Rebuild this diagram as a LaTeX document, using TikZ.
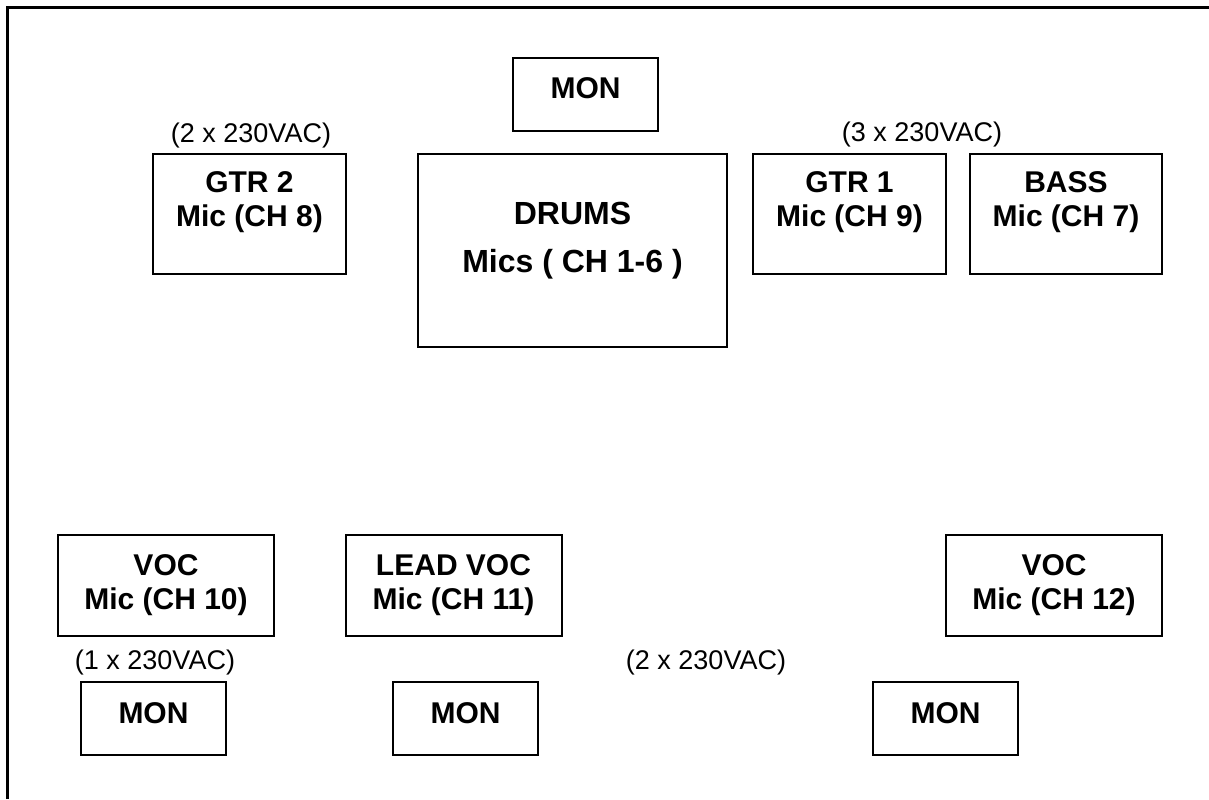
\documentclass[tikz,border=0pt]{standalone}
\usepackage{fontspec}
\setmainfont{Liberation Sans}
\usepackage{tikz}
\usetikzlibrary{positioning, calc}
\usepackage{xcolor}

\tikzset{
	stagebox/.style={draw, line width=1pt, rectangle, inner sep=0pt},
	boxtext/.style={font=\bfseries\fontsize{15}{17}\selectfont, align=center, inner sep=0pt},
	drumtext/.style={font=\bfseries\fontsize{16}{24}\selectfont, align=center, inner sep=0pt},
	powernote/.style={font=\fontsize{13.5}{15}\selectfont, inner sep=0pt}
}

\begin{document}
\begin{tikzpicture}[x=0.5pt, y=-0.5pt]
        \useasboundingbox (0,0) rectangle (1209,799);
        % stage edge
        \draw[line width=1.5pt] (7.5,799) -- (7.5,7.5) -- (1209,7.5);

        % back line
        \node[stagebox, minimum width=72.5pt, minimum height=36.5pt] (montop) at (585.5,94.5) {};
        \node[boxtext] (montop-t) at (585.5,88) {MON};
        \node[stagebox, minimum width=96.5pt, minimum height=60pt] (gtrtwo) at (249.5,214) {};
        \node[boxtext] (gtrtwo-t) at (249.5,202) {GTR 2\\Mic (CH 8)};
        \node[stagebox, minimum width=154.5pt, minimum height=96.5pt] (drums) at (572.5,250.5) {};
        \node[drumtext] (drums-t) at (572.5,241) {DRUMS\\Mics ( CH 1-6 )};
        \node[stagebox, minimum width=96.5pt, minimum height=60pt] (gtrone) at (849.5,214) {};
        \node[boxtext] (gtrone-t) at (849.5,202) {GTR 1\\Mic (CH 9)};
        \node[stagebox, minimum width=96pt, minimum height=60pt] (bass) at (1066,214) {};
        \node[boxtext] (bass-t) at (1066,202) {BASS\\Mic (CH 7)};
        \node[powernote] (pwr-gtrtwo) at (251,136) {(2 x 230VAC)};
        \node[powernote] (pwr-gtrone) at (922,135) {(3 x 230VAC)};

        % front line
        \foreach \nm/\cx/\txt in {vocten/166/{VOC\\Mic (CH 10)}, leadvoc/453.5/{LEAD VOC\\Mic (CH 11)}, voctwelve/1054/{VOC\\Mic (CH 12)}}{
            \node[stagebox, minimum width=108pt, minimum height=50.5pt] (\nm) at (\cx,585.5) {};
            \node[boxtext] (\nm-t) at (\cx,585) {\txt};
        }
        \foreach \nm/\cx in {monone/153.5, montwo/465.5, monthree/945.5}{
            \node[stagebox, minimum width=72.5pt, minimum height=36.5pt] (\nm) at (\cx,718.5) {};
            \node[boxtext] (\nm-t) at (\cx,713) {MON};
        }
        \node[powernote] (pwr-vocten) at (155,662) {(1 x 230VAC)};
        \node[powernote] (pwr-front) at (706,662) {(2 x 230VAC)};
\end{tikzpicture}
\end{document}
